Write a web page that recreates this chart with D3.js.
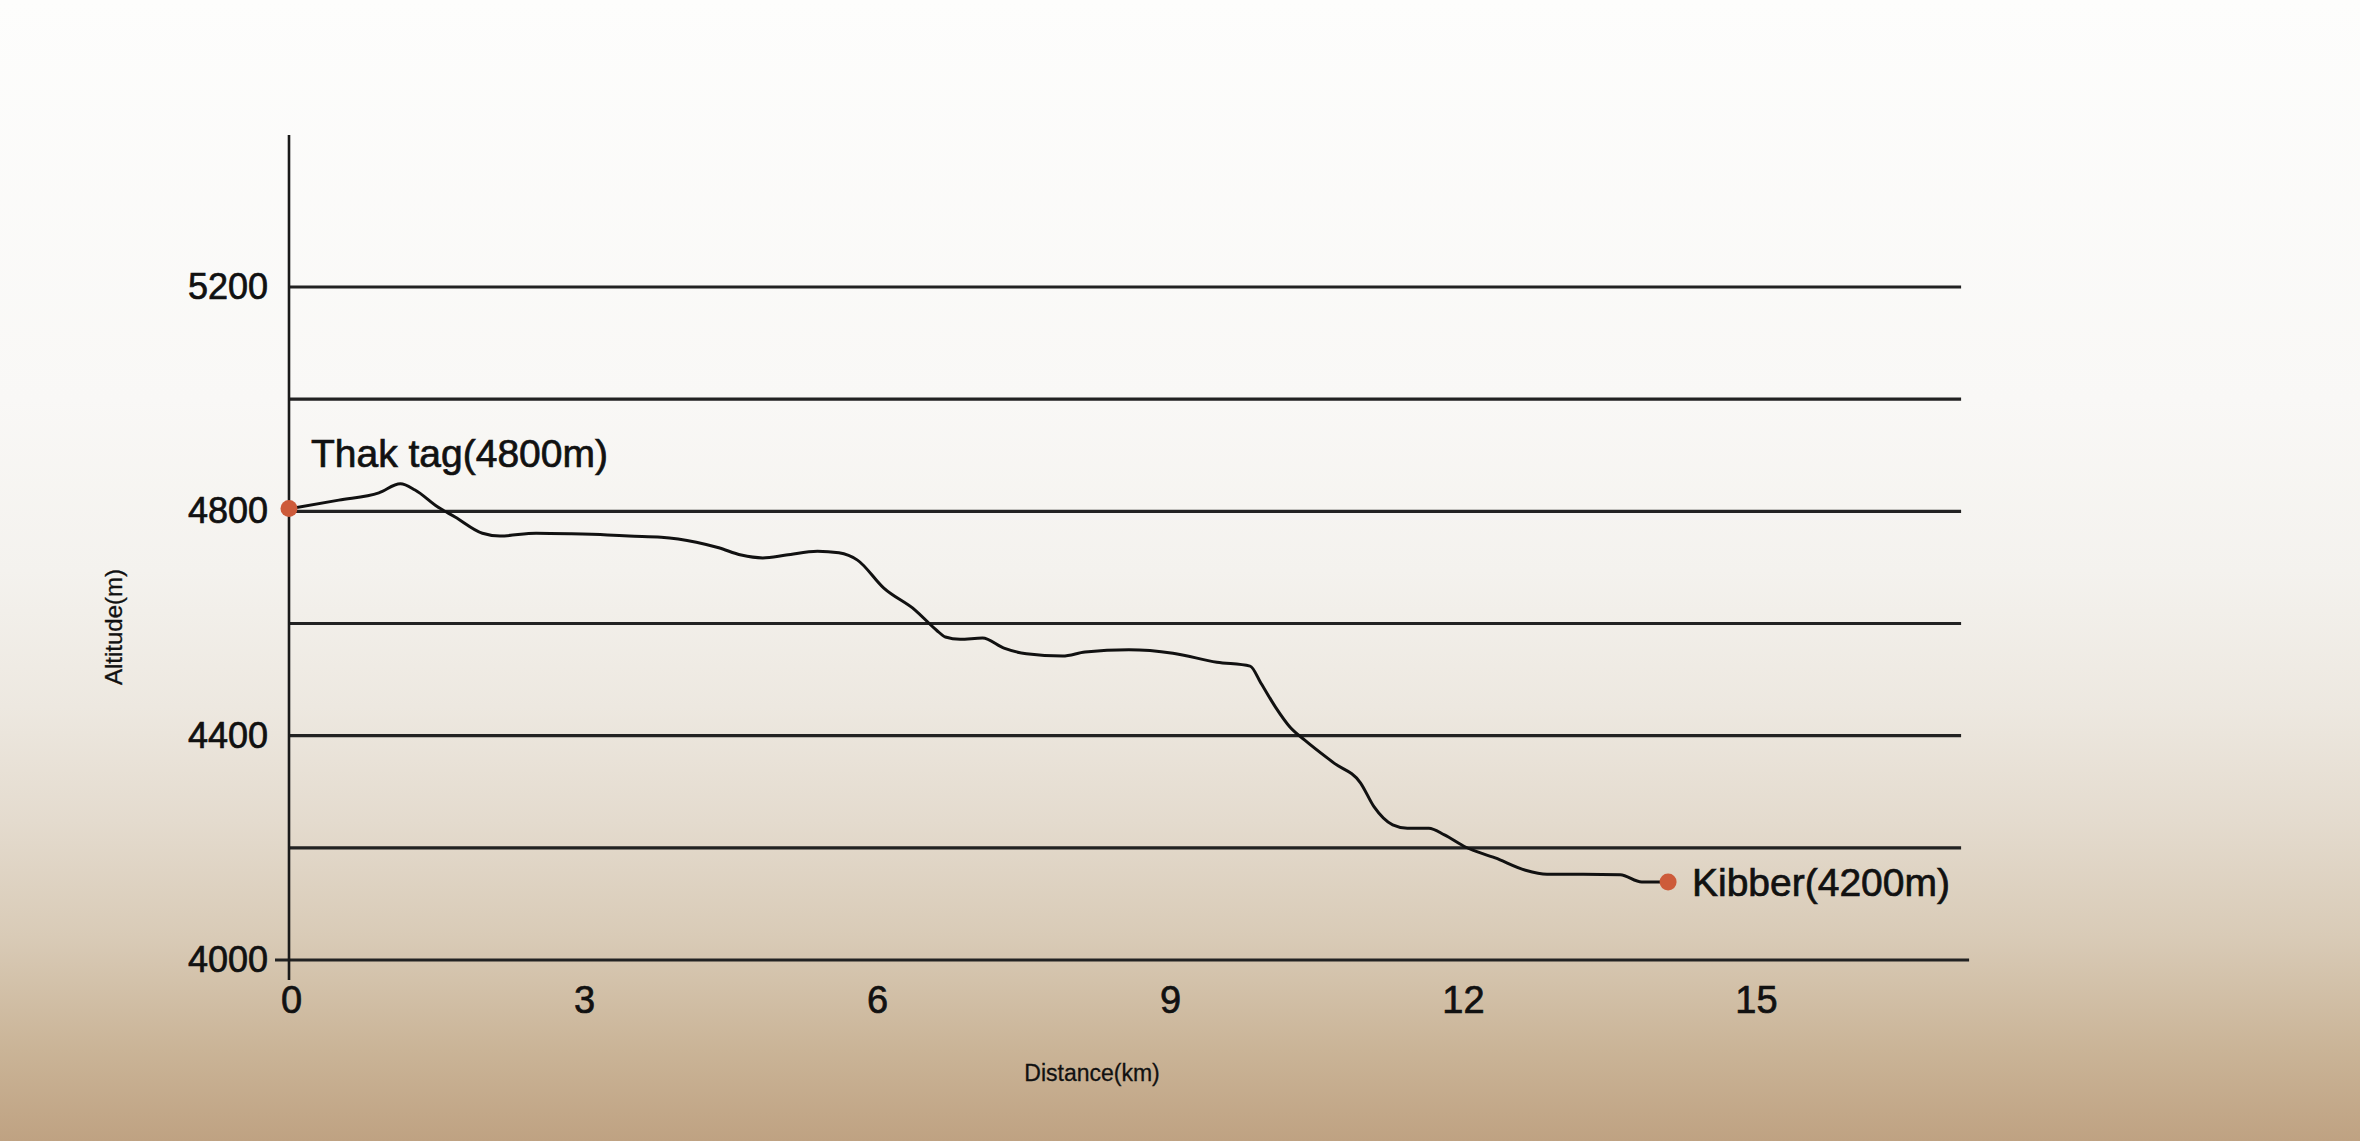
<!doctype html>
<html>

<head>
    <title>Trek altitude profile</title>
    <script src="https://cdn.jsdelivr.net/npm/d3@7/dist/d3.min.js"></script>
    <style>
        html, body { margin: 0; padding: 0; overflow: hidden; }
        svg { display: block; font-family: "Liberation Sans", Arial, Helvetica, sans-serif; }
    </style>
</head>

<body>

    <svg width="2360" height="1141"></svg>

    <script>

        // distance along the trail (km) and altitude (m)
        var km = [0, 0.49, 0.90, 1.12, 1.27, 1.50, 1.68, 1.96, 2.14, 2.51, 2.87, 3.24, 3.46, 3.79,
            4.15, 4.38, 4.61, 4.83, 5.07, 5.39, 5.61, 5.80, 6.07, 6.39, 6.61, 6.70, 6.85, 7.08,
            7.30, 7.53, 7.90, 8.13, 8.58, 9.03, 9.48, 9.82, 9.93, 10.08, 10.23, 10.38, 10.68,
            10.95, 11.09, 11.28, 11.43, 11.65, 11.81, 12.03, 12.33, 12.64, 12.86, 13.23, 13.61,
            13.83, 14.10];
        var altitude = [4805, 4820, 4833, 4849, 4838, 4808, 4790, 4761, 4756, 4761, 4760, 4758,
            4756, 4754, 4745, 4735, 4722, 4717, 4722, 4729, 4726, 4713, 4663, 4624, 4588, 4576,
            4572, 4574, 4556, 4546, 4542, 4549, 4553, 4547, 4531, 4524, 4494, 4451, 4415, 4392,
            4351, 4316, 4273, 4241, 4235, 4235, 4223, 4201, 4182, 4160, 4153, 4153, 4152, 4139,
            4139];

        var gridValues = [4000, 4200, 4400, 4600, 4800, 5000, 5200];
        var yTicks = [4000, 4400, 4800, 5200];
        var xTicks = [0, 3, 6, 9, 12, 15];

        var placeNames = ["Thak tag(4800m)", "Kibber(4200m)"];
        var placeKm = [0, 14.1];
        var placeAlt = [4805, 4139];

        var width = 2360;
        var height = 1141;

        var x = d3.scaleLinear()
            .domain([0, 15])
            .range([291, 1756]);

        var y = d3.scaleLinear()
            .domain([4000, 5200])
            .range([960, 287]);

        var axisX = 289;
        var gridEnd = x(17.1);

        var svg = d3.select("svg");

        // paper-like background, white at the top fading to tan
        var defs = svg.append("defs");
        var grad = defs.append("linearGradient")
            .attr("id", "bg")
            .attr("x1", 0).attr("y1", 0)
            .attr("x2", 0).attr("y2", 1);
        [[0, "#fdfdfc"], [0.35, "#f9f8f6"], [0.5, "#f4f2ee"], [0.62, "#ede8e0"],
         [0.72, "#e4dbce"], [0.82, "#d9cbb7"], [0.92, "#cab497"], [1, "#bfa282"]]
            .forEach(function (s) {
                grad.append("stop").attr("offset", s[0]).attr("stop-color", s[1]);
            });

        svg.append("rect")
            .attr("width", width)
            .attr("height", height)
            .attr("fill", "url(#bg)");

        var canvas = svg.append("g");

        // horizontal rules
        canvas.selectAll("line.grid")
            .data(gridValues)
            .enter()
                .append("line")
                .attr("class", "grid")
                .attr("x1", function (d) { return d === 4000 ? axisX - 14 : axisX; })
                .attr("x2", function (d) { return d === 4000 ? gridEnd + 8 : gridEnd; })
                .attr("y1", function (d) { return y(d); })
                .attr("y2", function (d) { return y(d); })
                .attr("stroke", "#222")
                .attr("stroke-width", 3.2);

        // vertical axis line
        canvas.append("line")
            .attr("x1", axisX).attr("x2", axisX)
            .attr("y1", 135).attr("y2", 980)
            .attr("stroke", "#1a1a1a")
            .attr("stroke-width", 2.6);

        var yAxis = d3.axisLeft(y)
            .tickValues(yTicks)
            .tickSize(0)
            .tickPadding(21)
            .tickFormat(d3.format("d"));

        canvas.append("g")
            .attr("transform", "translate(" + axisX + ",0)")
            .call(yAxis)
            .call(function (g) { g.select(".domain").remove(); })
            .selectAll("text")
                .attr("font-size", 36)
                .attr("font-family", null)
                .attr("fill", "#111")
                .attr("stroke", "#111")
                .attr("stroke-width", 0.7);

        var xAxis = d3.axisBottom(x)
            .tickValues(xTicks)
            .tickSize(0)
            .tickPadding(26);

        canvas.append("g")
            .attr("transform", "translate(0," + y(4000) + ")")
            .call(xAxis)
            .call(function (g) { g.select(".domain").remove(); })
            .selectAll("text")
                .attr("font-size", 38)
                .attr("font-family", null)
                .attr("fill", "#111")
                .attr("stroke", "#111")
                .attr("stroke-width", 0.7);

        // altitude profile
        var line = d3.line()
            .x(function (d) { return x(d[0]); })
            .y(function (d) { return y(d[1]); })
            .curve(d3.curveMonotoneX);

        canvas.append("path")
            .datum(d3.zip(km, altitude))
            .attr("fill", "none")
            .attr("stroke", "#111")
            .attr("stroke-width", 3)
            .attr("stroke-linejoin", "round")
            .attr("d", line);

        // start and end points
        canvas.selectAll("circle")
            .data(d3.zip(placeKm, placeAlt))
            .enter()
                .append("circle")
                .attr("cx", function (d) { return x(d[0]) - (d[0] === 0 ? 2 : 0); })
                .attr("cy", function (d) { return y(d[1]); })
                .attr("r", 8.5)
                .attr("fill", "#cd5b3a");

        canvas.append("text")
            .attr("x", 311)
            .attr("y", 467)
            .attr("font-size", 39)
            .attr("fill", "#111")
            .attr("stroke", "#111")
            .attr("stroke-width", 0.7)
            .text(placeNames[0]);

        canvas.append("text")
            .attr("x", 1692)
            .attr("y", 896)
            .attr("font-size", 39)
            .attr("fill", "#111")
            .attr("stroke", "#111")
            .attr("stroke-width", 0.7)
            .text(placeNames[1]);

        // axis titles
        canvas.append("text")
            .attr("x", 1092)
            .attr("y", 1081)
            .attr("text-anchor", "middle")
            .attr("font-size", 23)
            .attr("fill", "#111")
            .attr("stroke", "#111")
            .attr("stroke-width", 0.3)
            .text("Distance(km)");

        canvas.append("text")
            .attr("transform", "translate(122,627) rotate(-90)")
            .attr("text-anchor", "middle")
            .attr("font-size", 24)
            .attr("fill", "#111")
            .attr("stroke", "#111")
            .attr("stroke-width", 0.3)
            .text("Altitude(m)");

    </script>

</body>

</html>
